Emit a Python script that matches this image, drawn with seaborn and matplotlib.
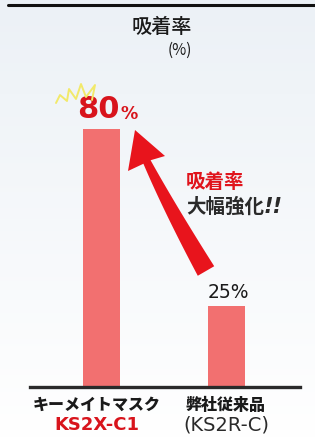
import numpy as np
import pandas as pd
import matplotlib
matplotlib.use("Agg")
import matplotlib.pyplot as plt
from matplotlib.patches import Polygon
import seaborn as sns

# ---- data ----
categories = ["KS2X-C1", "KS2R-C"]
values = [80, 25]
value_labels = ["80", "25%"]
label_line1 = ["キーメイトマスク", "弊社従来品"]
label_line2 = ["KS2X-C1", "(KS2R-C)"]
title = "吸着率"
unit = "(%)"

sns.set_theme(style="white")
plt.rcParams['font.family'] = ['Noto Sans CJK JP', 'DejaVu Sans']

W, H = 315, 439
fig = plt.figure(figsize=(W / 100, H / 100), dpi=100)

def fx(x):
    return x / W

def fy(y):
    return 1 - y / H

# background gradient
bg = fig.add_axes([0, 0, 1, 1], zorder=-10)
grad = np.linspace(0, 1, 256).reshape(-1, 1)
top = np.array([0.925, 0.945, 0.965])
bot = np.array([1.0, 1.0, 1.0])
img = top[None, None, :] * (1 - grad[:, :, None]) + bot[None, None, :] * grad[:, :, None]
img = np.clip(img, 0, 1)
bg.imshow(np.repeat(img, 2, axis=1), aspect="auto", extent=[0, 1, 0, 1])
bg.set_axis_off()

# top black rule
fig.add_artist(plt.Line2D([fx(8), 1], [fy(6), fy(6)], color="#111111", lw=2.2, transform=fig.transFigure))

# main axes
left, right = 30, 300
base_y = 388
px_per_unit = (388 - 130) / 80.0
ymax = 100
ax_top = base_y - ymax * px_per_unit
ax = fig.add_axes([fx(left), fy(base_y), (right - left) / W, (base_y - ax_top) / H])
ax.patch.set_alpha(0)

df = pd.DataFrame({"cat": categories, "val": values})
sns.barplot(data=df, x="cat", y="val", color="#f27070", width=0.296, ax=ax, saturation=1)
for p in ax.patches:
    p.set_edgecolor("none")
ax.set_ylim(0, ymax)
ax.set_xlim(-0.572, 1.588)
for s in ["top", "right", "left"]:
    ax.spines[s].set_visible(False)
ax.spines["bottom"].set_color("#2a2a2a")
ax.spines["bottom"].set_linewidth(2.4)
ax.set_xticks([])
ax.set_yticks([])
ax.set_xlabel("")
ax.set_ylabel("")

# value labels
ax.annotate(value_labels[0], xy=(0, values[0]), xytext=(13, 4), textcoords="offset points",
            ha="right", va="bottom", fontsize=22, fontweight="bold", color="#d8141c",
            family="DejaVu Sans")
ax.annotate("%", xy=(0, values[0]), xytext=(14, 5), textcoords="offset points",
            ha="left", va="bottom", fontsize=12.5, fontweight="bold", color="#d8141c",
            family="DejaVu Sans")
ax.annotate(value_labels[1], xy=(1, values[1]), xytext=(1, 4), textcoords="offset points",
            ha="center", va="bottom", fontsize=13.5, color="#1a1a1a", family="DejaVu Sans")

# title
fig.text(fx(162), fy(27), title, ha="center", va="center", fontsize=14.5, color="#1a1a1a",
         fontweight="medium")
fig.text(fx(180), fy(50), unit, ha="center", va="center", fontsize=11, color="#1a1a1a")

# category labels
for i in range(2):
    xpix = [97, 226][i]
    fig.text(fx(xpix), fy(405), label_line1[i], ha="center", va="center",
             fontsize=[11.5, 11.5][i], fontweight="heavy", color="#1a1a1a")
    fig.text(fx(xpix), fy(425), label_line2[i], ha="center", va="center",
             fontsize=[13, 14][i], fontweight=["bold", "normal"][i],
             color=["#d8141c", "#2a2a2a"][i], family="DejaVu Sans")

# annotation texts
fig.text(fx(186), fy(183), "吸着率", ha="left", va="center", fontsize=14,
         fontweight="bold", color="#e0141c")
fig.text(fx(186), fy(207), "大幅強化", ha="left", va="center", fontsize=14,
         fontweight="bold", color="#2a2a2a")
fig.text(fx(264), fy(207), "!!", ha="left", va="center", fontsize=15,
         fontweight="bold", style="italic", color="#2a2a2a", family="DejaVu Sans")

# yellow burst
burst = [(56, 104), (60, 96), (67, 102), (69, 90), (76, 100), (81, 85), (86, 98), (95, 86), (92, 101)]
bx = [fx(p[0]) for p in burst]
by = [fy(p[1]) for p in burst]
fig.add_artist(plt.Line2D(bx, by, color="#f2e96a", lw=1.4, transform=fig.transFigure))

# curved tapered arrow
P0 = np.array([206.0, 272.0])
P1 = np.array([170.0, 210.0])
P2 = np.array([147.0, 163.0])
t = np.linspace(0, 1, 40)
pts = ((1 - t)[:, None] ** 2) * P0 + (2 * (1 - t) * t)[:, None] * P1 + (t ** 2)[:, None] * P2
d = 2 * (1 - t)[:, None] * (P1 - P0) + 2 * t[:, None] * (P2 - P1)
d /= np.linalg.norm(d, axis=1)[:, None]
nrm = np.stack([-d[:, 1], d[:, 0]], axis=1)
wdt = (19 * (1 - t) + 8 * t)[:, None] / 2
side_a = pts + nrm * wdt
side_b = pts - nrm * wdt
head = np.array([[165.0, 157.0], [135.0, 131.0], [128.0, 172.0]])
poly = np.vstack([side_a, head if np.dot(head[0] - P2, nrm[-1]) > 0 else head[::-1], side_b[::-1]])
poly_fig = np.stack([poly[:, 0] / W, 1 - poly[:, 1] / H], axis=1)
fig.add_artist(Polygon(poly_fig, closed=True, facecolor="#e8141c", edgecolor="none",
                       transform=fig.transFigure))

fig.savefig("out.png", dpi=100)
